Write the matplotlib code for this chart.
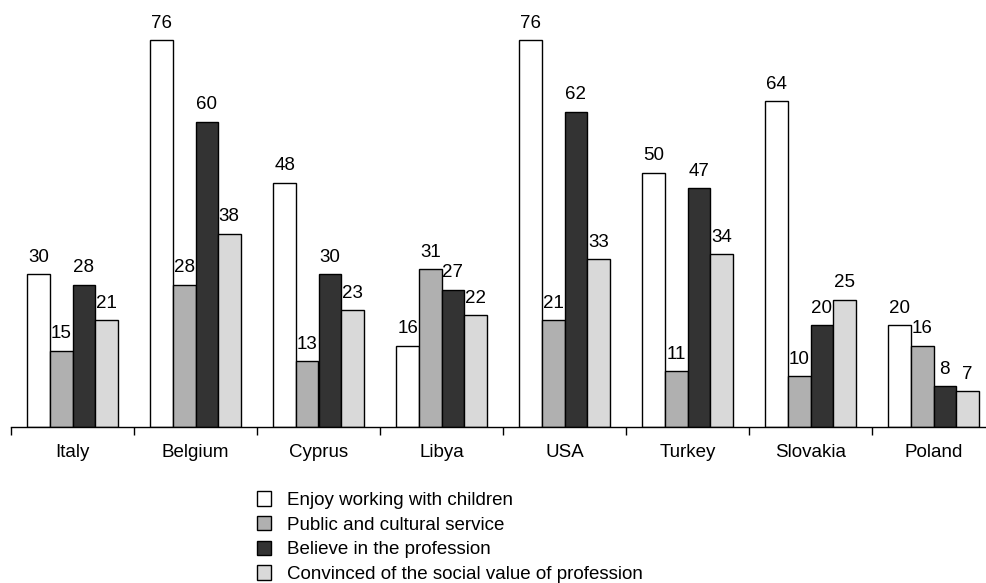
import matplotlib
matplotlib.use("Agg")
import matplotlib.pyplot as plt
import numpy as np
from matplotlib.patches import Patch

countries = ["Italy", "Belgium", "Cyprus", "Libya", "USA", "Turkey", "Slovakia", "Poland"]
series_names = [
    "Enjoy working with children",
    "Public and cultural service",
    "Believe in the profession",
    "Convinced of the social value of profession",
]
enjoy = [30, 76, 48, 16, 76, 50, 64, 20]
public = [15, 28, 13, 31, 21, 11, 10, 16]
believe = [28, 60, 30, 27, 62, 47, 20, 8]
social = [21, 38, 23, 22, 33, 34, 25, 7]
colors = ["#ffffff", "#b0b0b0", "#333333", "#d9d9d9"]

plt.rcParams["font.family"] = ["Liberation Sans", "DejaVu Sans"]
FS = 13.5

W, H = 987, 583
fig = plt.figure(figsize=(W / 100, H / 100), dpi=100)
ax = fig.add_axes([11 / W, (H - 427) / H, 984 / W, (427 - 20) / H])

x = np.arange(len(countries))
bw = 0.183
for i, (vals, c) in enumerate(zip([enjoy, public, believe, social], colors)):
    pos = x + (i - 1.5) * bw
    ax.bar(pos, vals, width=bw, color=c, edgecolor="black", linewidth=1.0, zorder=2)
    for px, v in zip(pos, vals):
        ax.annotate(str(v), (px, v), xytext=(0, 6), textcoords="offset points",
                    ha="center", va="bottom", fontsize=FS)

ax.set_xlim(-0.5, len(countries) - 0.5)
ax.set_ylim(0, 80)
for s in ["top", "right", "left"]:
    ax.spines[s].set_visible(False)
ax.spines["bottom"].set_linewidth(1.0)
ax.set_yticks([])
ax.set_xticks(x)
ax.set_xticklabels(countries, fontsize=FS)
ax.tick_params(axis="x", which="major", length=0, pad=12)
ax.set_xticks(np.arange(-0.5, len(countries) + 0.5, 1), minor=True)
ax.tick_params(axis="x", which="minor", length=6, width=1.0, direction="out")

handles = [Patch(facecolor=c, edgecolor="black", linewidth=1.0) for c in colors]
fig.legend(handles, series_names, loc="upper left", bbox_to_anchor=(248 / W, 1 - 482 / H),
           frameon=False, fontsize=FS, handlelength=0.75, handleheight=0.8,
           handletextpad=0.85, labelspacing=0.37, borderpad=0)

fig.savefig("out.png", dpi=100)
